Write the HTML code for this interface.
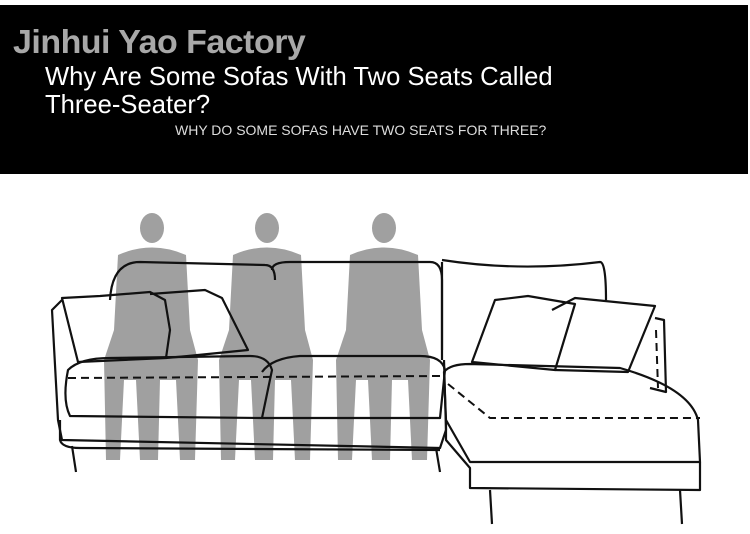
<!DOCTYPE html>
<html><head><style>
body{margin:0;width:750px;height:534px;background:#fff;overflow:hidden;position:relative;font-family:"Liberation Sans",sans-serif}
#band{position:absolute;left:0;top:5px;width:748px;height:169px;background:#000}
.t{position:absolute;white-space:nowrap}
</style></head><body>
<div id="band"></div>
<div class="t" style="left:13px;top:23px;font-size:33px;font-weight:bold;color:#a8a8a8;letter-spacing:-0.5px;transform:scaleX(1.03);transform-origin:left">Jinhui Yao Factory</div>
<div class="t" style="left:45px;top:62px;font-size:26px;color:#fff;line-height:28px;transform:scaleX(0.985);transform-origin:left">Why Are Some Sofas With Two Seats Called<br>Three-Seater?</div>
<div class="t" style="left:175px;top:122px;font-size:14px;color:#ddd;transform:scaleX(1.0);transform-origin:left">WHY DO SOME SOFAS HAVE TWO SEATS FOR THREE?</div>
<svg width="750" height="534" style="position:absolute;left:0;top:0">
<g fill="#a0a0a0">
<g id="p">
<ellipse cx="152" cy="228" rx="12" ry="15"/>
<path d="M118 255 Q152 240 186 255 L190 330 L198 360 L195 460 L180 460 L176 380 L160 380 L158 460 L140 460 L136 380 L124 380 L120 460 L106 460 L104 360 L114 330 Z"/>
</g>
<use href="#p" transform="translate(115,0)"/>
<use href="#p" transform="translate(232,0)"/>
</g>
<g fill="none" stroke="#111" stroke-width="2.2" stroke-linejoin="round">
<path d="M110 300 Q112 262 140 262 L265 265 Q275 265 275 280"/>
<path d="M272 270 Q272 262 290 262 L430 262 Q442 262 442 280 L442 350"/>
<path d="M442 260 Q520 272 600 262 Q606 262 606 300"/>
<path d="M442 262 L442 360"/>
<path d="M62 300 L52 310 L58 420 L62 440 L440 448 L446 430 L444 360"/>
<path d="M62 298 L100 296 L150 292 L165 300 L170 330 L166 358 L78 362 Z"/>
<path d="M150 294 L205 290 L222 298 L248 350 L188 356 L166 358"/>
<path d="M68 370 Q80 358 110 358 L250 356 Q268 356 272 370 L262 418 L70 416 Q62 400 68 370 Z"/>
<path d="M262 372 Q272 358 300 356 L420 356 Q442 356 445 370 L440 418 L262 418"/>
<path d="M60 420 L60 440 Q62 448 80 448 L440 450"/>
<path d="M72 446 L76 472 M436 448 L440 472"/>
<path d="M444 372 Q450 364 470 364 L620 368 Q690 388 698 420 L700 462 L470 462 L446 420 Z"/>
<path d="M446 420 L446 440 L470 468 L470 488 L700 490 L700 462"/>
<path d="M490 490 L492 524 M680 490 L682 524"/>
<path d="M495 300 L528 296 L575 304 L555 370 L472 362 Z"/>
<path d="M552 310 L575 298 L655 306 L628 372 L555 370"/>
<path d="M655 318 L664 320 L666 392 L650 388"/>
</g>
<g fill="none" stroke="#111" stroke-width="2" stroke-dasharray="8,5">
<path d="M68 378 L440 376"/>
<path d="M448 384 L490 418 L700 418"/>
<path d="M656 330 L658 388"/>
</g>
</svg>
</body></html>
